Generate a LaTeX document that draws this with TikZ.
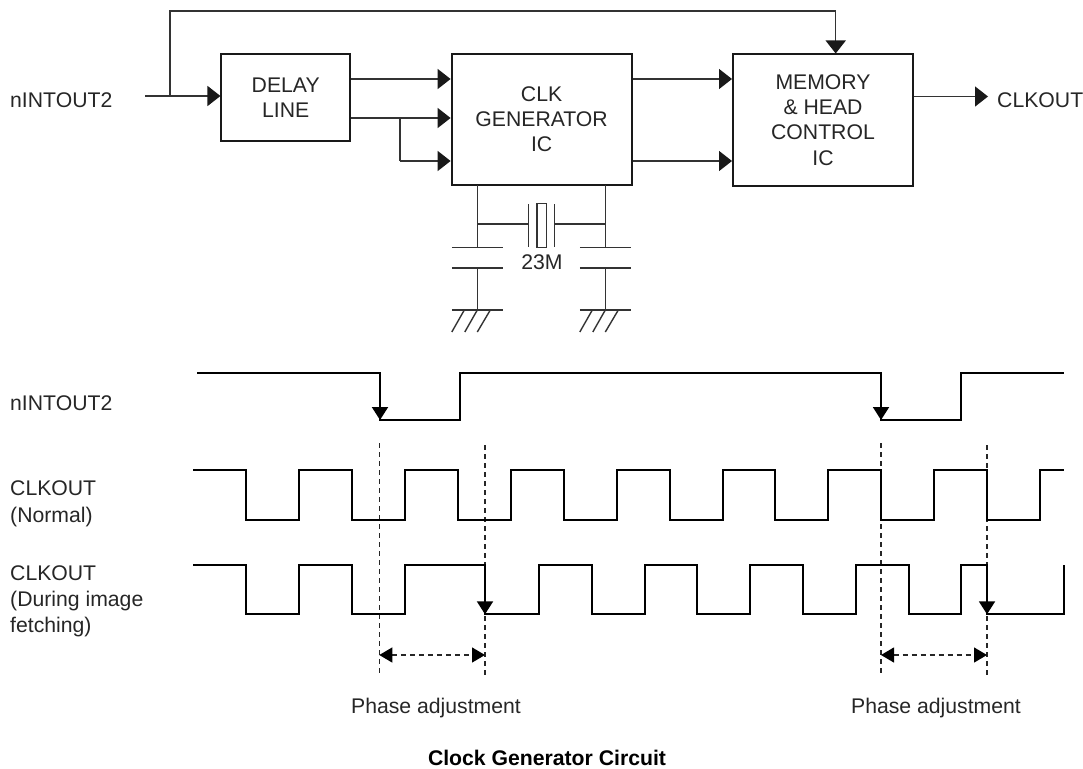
\documentclass[tikz,border=0pt]{standalone}
\usepackage{fontspec}
\setmainfont{Liberation Sans}
\usetikzlibrary{arrows.meta}
\tikzset{
  x=1pt,y=-1pt,
  every node/.style={font=\fontsize{21.2}{25.7}\selectfont,text=black!85},
  lbl/.style={anchor=west,inner sep=0pt,align=left},
  blockbox/.style={draw=black!90,line width=2pt,fill=white,inner sep=0pt,align=center},
  thin wire/.style={draw=black!80,line width=1.4pt},
  flow/.style={thin wire,-{Triangle[length=13pt,width=20pt,black!90]}},
  wave/.style={draw=black,line width=2pt,line join=miter},
  edge tip/.style={-{Triangle[length=13pt,width=16pt,black]}},
  guide/.style={draw=black!85,line width=1.3pt,dash pattern=on 5pt off 4pt},
  span/.style={guide,{Triangle[length=13pt,width=15pt,black]}-{Triangle[length=13pt,width=15pt,black]}},
  part/.style={draw=black!80,line width=1.4pt},
}
\begin{document}
\begin{tikzpicture}
\useasboundingbox (0,0) rectangle (1083,768);
% blocks
\node[blockbox,minimum width=128.5pt,minimum height=87.5pt] (delay) at (285.7,97.7) {DELAY\\LINE};
\node[blockbox,minimum width=180pt,minimum height=131pt,font=\fontsize{21.2}{25}\selectfont] (clk) at (541.6,119.5) {CLK\\GENERATOR\\IC};
\node[blockbox,minimum width=180pt,minimum height=131pt,font=\fontsize{21.2}{25.3}\selectfont] (mem) at (823,120) {MEMORY\\\& HEAD\\CONTROL\\IC};
% labels
\node[lbl] (in) at (10,100) {nINTOUT2};
\node[lbl] (out) at (997,100.5) {CLKOUT};
\coordinate (src) at (145,96);
\coordinate (jn) at (170,96);
\coordinate (top) at (170,11);
\coordinate (topr) at (835.7,11);
\draw[flow] (src) -- (src -| delay.west);
\draw[thin wire] (jn) -- (top) -- (topr);
\draw[flow] (topr) -- (topr |- mem.north);
\draw[flow] (delay.east |- 0,79) -- (clk.west |- 0,79);
\draw[flow] (delay.east |- 0,118) -- (clk.west |- 0,118);
\coordinate (jb) at (400,118);
\draw[thin wire] (jb) -- (400,161);
\draw[flow] (400,161) -- (clk.west |- 0,161);
\draw[flow] (clk.east |- 0,79) -- (mem.west |- 0,79);
\draw[flow] (clk.east |- 0,161) -- (mem.west |- 0,161);
\draw[flow] (mem.east |- 0,96.5) -- (988,96.5);
% crystal and capacitors
\coordinate (lw) at (477.3,185);
\coordinate (rw) at (605.3,185);
\draw[part] (lw) -- (477.3,247.5);
\draw[part] (rw) -- (605.3,247.5);
\draw[part] (477.3,224) -- (528.7,224);
\draw[part] (554.3,224) -- (605.3,224);
\draw[part] (528.7,204) -- (528.7,247);
\draw[part] (554.3,204) -- (554.3,247);
\node[draw=black!80,line width=1.2pt,minimum width=9.5pt,minimum height=44pt,inner sep=0pt] (xtal) at (541.7,225.5) {};
\node[inner sep=0pt] (m23) at (542,262) {23M};
\foreach \xx in {477.3,605.3}{
  \draw[part] (\xx-25.5,247.5) -- (\xx+25.5,247.5);
  \draw[part] (\xx-25.5,268) -- (\xx+25.5,268);
  \draw[part] (\xx,268) -- (\xx,310);
  \draw[part] (\xx-25.5,310) -- (\xx+25.5,310);
  \draw[part] (\xx-13,310) -- (\xx-25.5,332);
  \draw[part] (\xx,310) -- (\xx-12.5,332);
  \draw[part] (\xx+13,310) -- (\xx,332);
}
% timing labels
\node[lbl] (l1) at (10,402.7) {nINTOUT2};
\node[lbl,font=\fontsize{21.2}{26.5}\selectfont] (l2) at (10,504) {CLKOUT\\(Normal)};
\node[lbl,font=\fontsize{21.2}{26}\selectfont] (l3) at (10,601.5) {CLKOUT\\(During image\\fetching)};
\node[inner sep=0pt] (p1) at (436,708) {Phase adjustment};
\node[inner sep=0pt] (p2) at (936,708) {Phase adjustment};
\node[inner sep=0pt,font=\bfseries\fontsize{21.2}{25}\selectfont,text=black] (title) at (547,757.5) {Clock Generator Circuit};
% guides
\draw[guide] (379.3,443) -- (379.3,673);
\draw[guide] (485,445) -- (485,675);
\draw[guide] (881,443) -- (881,673);
\draw[guide] (987,445) -- (987,675);
\draw[span] (379.3,655) -- (485,655);
\draw[span] (881,655) -- (987,655);
% waves
\draw[wave] (197,373.3) -- (380,373.3) -- (380,420) -- (460,420) -- (460,373.3) -- (881,373.3) -- (881,420) -- (961,420) -- (961,373.3) -- (1064,373.3);
\draw[wave,edge tip] (380,373.3) -- (380,420);
\draw[wave,edge tip] (881,373.3) -- (881,420);
\def\hi{470.3}\def\lo{519.7}
\draw[wave] (193,\hi) -| (246,\lo) -| (299,\hi) -| (352,\lo) -| (405,\hi) -| (458,\lo) -| (511,\hi) -| (564,\lo) -| (617,\hi) -| (669.5,\lo) -| (722.5,\hi) -| (775,\lo) -| (828,\hi) -| (881,\lo) -| (934,\hi) -| (987,\lo) -| (1040,\hi) -- (1064,\hi);
\def\hi{565}\def\lo{614.3}
\draw[wave] (193,\hi) -| (246,\lo) -| (299,\hi) -| (352,\lo) -| (405,\hi) -| (485,\lo) -| (539,\hi) -| (591.5,\lo) -| (644.5,\hi) -| (697,\lo) -| (750,\hi) -| (803,\lo) -| (856,\hi) -| (908.7,\lo) -| (961,\hi) -| (987,\lo) -| (1063.5,\hi);
\draw[wave,edge tip] (485,565) -- (485,614.3);
\draw[wave,edge tip] (987,565) -- (987,614.3);
\end{tikzpicture}
\end{document}
